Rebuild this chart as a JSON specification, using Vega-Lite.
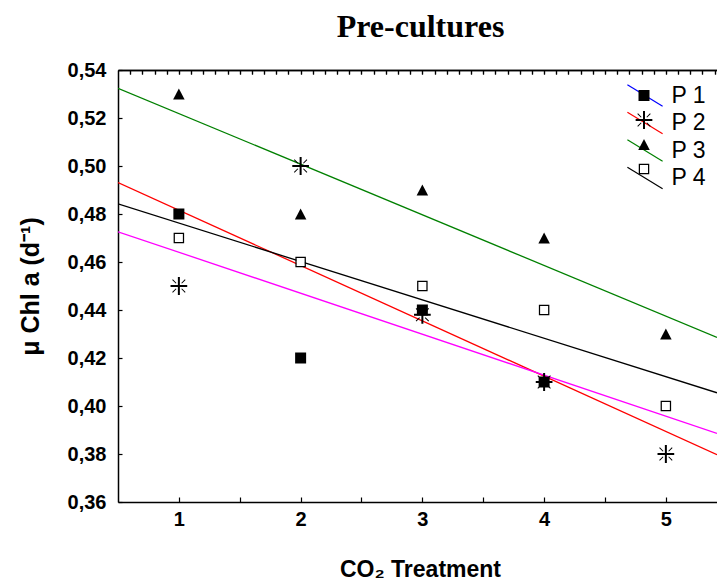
{
  "$schema": "https://vega.github.io/schema/vega-lite/v6.json",
  "width": 599,
  "height": 432,
  "autosize": {"type": "none"},
  "padding": {"left": 118, "top": 70, "right": 0, "bottom": 83},
  "background": "white",
  "title": {
    "text": "Pre-cultures",
    "font": "Liberation Serif",
    "fontSize": 32,
    "fontWeight": "bold",
    "color": "black",
    "anchor": "middle",
    "baseline": "alphabetic",
    "offset": -9,
    "dx": 3
  },
  "datasets": {
    "pts": [
      {"x": 1, "y": 0.48, "series": "P 1"},
      {"x": 2, "y": 0.42, "series": "P 1"},
      {"x": 3, "y": 0.44, "series": "P 1"},
      {"x": 4, "y": 0.41, "series": "P 1"},
      {"x": 1, "y": 0.45, "series": "P 2"},
      {"x": 2, "y": 0.50, "series": "P 2"},
      {"x": 3, "y": 0.438, "series": "P 2"},
      {"x": 4, "y": 0.41, "series": "P 2"},
      {"x": 5, "y": 0.38, "series": "P 2"},
      {"x": 1, "y": 0.53, "series": "P 3"},
      {"x": 2, "y": 0.48, "series": "P 3"},
      {"x": 3, "y": 0.49, "series": "P 3"},
      {"x": 4, "y": 0.47, "series": "P 3"},
      {"x": 5, "y": 0.43, "series": "P 3"},
      {"x": 1, "y": 0.47, "series": "P 4"},
      {"x": 2, "y": 0.46, "series": "P 4"},
      {"x": 3, "y": 0.45, "series": "P 4"},
      {"x": 4, "y": 0.44, "series": "P 4"},
      {"x": 5, "y": 0.40, "series": "P 4"}
    ],
    "fits": [
      {"x": 0.5, "y": 0.4931, "fit": "P 2"},
      {"x": 5.42, "y": 0.3797, "fit": "P 2"},
      {"x": 0.5, "y": 0.5324, "fit": "P 3"},
      {"x": 5.42, "y": 0.4286, "fit": "P 3"},
      {"x": 0.5, "y": 0.4842, "fit": "P 4"},
      {"x": 5.42, "y": 0.4055, "fit": "P 4"},
      {"x": 0.5, "y": 0.4726, "fit": "mean"},
      {"x": 5.42, "y": 0.3886, "fit": "mean"}
    ]
  },
  "layer": [
    {
      "data": {"name": "fits"},
      "mark": {"type": "line", "strokeWidth": 1.3, "clip": true},
      "encoding": {
        "x": {
          "field": "x", "type": "quantitative",
          "scale": {"domain": [0.5, 5.42], "nice": false, "zero": false},
          "axis": {
            "orient": "bottom",
            "values": [1, 1.5, 2, 2.5, 3, 3.5, 4, 4.5, 5],
            "labelExpr": "datum.value % 1 == 0 ? format(datum.value, 'd') : ''",
            "tickSize": -5,
            "labelPadding": 12,
            "labelFlush": false,
            "labelOverlap": false,
            "title": "CO₂ Treatment",
            "titleX": 302,
            "titleY": 74,
            "titleAlign": "center",
            "titleBaseline": "alphabetic"
          }
        },
        "y": {
          "field": "y", "type": "quantitative",
          "scale": {"domain": [0.36, 0.54], "nice": false, "zero": false},
          "axis": {
            "orient": "left",
            "values": [0.36, 0.37, 0.38, 0.39, 0.40, 0.41, 0.42, 0.43, 0.44, 0.45, 0.46, 0.47, 0.48, 0.49, 0.50, 0.51, 0.52, 0.53, 0.54],
            "labelExpr": "round(datum.value * 100) % 2 == 0 ? replace(format(datum.value, '.2f'), '.', ',') : ''",
            "tickSize": -4,
            "labelPadding": 16,
            "labelFlush": false,
            "labelOverlap": false,
            "title": "μ Chl a (d⁻¹)\u00a0\u00a0\u00a0\u00a0\u00a0\u00a0\u00a0",
            "titleFontSize": 25,
            "titleAngle": -90,
            "titleX": -80,
            "titleAlign": "center",
            "titleBaseline": "alphabetic"
          }
        },
        "stroke": {
          "field": "fit", "type": "nominal",
          "scale": {
            "domain": ["P 1", "P 2", "P 3", "P 4", "mean"],
            "range": ["#0000ff", "#ff0000", "#008000", "#000000", "#ff00ff"]
          },
          "legend": {
            "values": ["P 1", "P 2", "P 3", "P 4"],
            "orient": "none",
            "legendX": 515.5,
            "legendY": 14,
            "title": null,
            "padding": 0,
            "symbolType": "M-4.4,-2.7L4.4,2.7",
            "symbolSize": 64,
            "symbolStrokeWidth": 1.2,
            "labelFont": "Liberation Sans",
            "labelFontSize": 23,
            "labelColor": "black",
            "labelOffset": 15,
            "rowPadding": 0.5
          }
        }
      }
    },
    {
      "data": {"name": "pts"},
      "transform": [{"filter": "datum.series == 'P 4'"}],
      "mark": {"type": "point", "shape": "M-0.85,-0.85H0.85V0.85H-0.85Z", "size": 100, "filled": true, "color": "white", "opacity": 1},
      "encoding": {
        "x": {
          "field": "x", "type": "quantitative",
          "axis": {
            "orient": "top",
            "values": [0.6, 0.7, 0.8, 0.9, 1.0, 1.1, 1.2, 1.3, 1.4, 1.5, 1.6, 1.7, 1.8, 1.9, 2.0, 2.1, 2.2, 2.3, 2.4, 2.5, 2.6, 2.7, 2.8, 2.9, 3.0, 3.1, 3.2, 3.3, 3.4, 3.5, 3.6, 3.7, 3.8, 3.9, 4.0, 4.1, 4.2, 4.3, 4.4, 4.5, 4.6, 4.7, 4.8, 4.9, 5.0, 5.1, 5.2, 5.3, 5.4],
            "labels": false,
            "tickSize": -4,
            "title": null
          }
        },
        "y": {"field": "y", "type": "quantitative"}
      }
    },
    {
      "data": {"name": "pts"},
      "mark": {"type": "point", "size": 100, "filled": true, "color": "black", "opacity": 1},
      "encoding": {
        "x": {
          "field": "x", "type": "quantitative",
          "axis": {
            "orient": "top",
            "values": [0.6, 0.7, 0.8, 0.9, 1.0, 1.1, 1.2, 1.3, 1.4, 1.5, 1.6, 1.7, 1.8, 1.9, 2.0, 2.1, 2.2, 2.3, 2.4, 2.5, 2.6, 2.7, 2.8, 2.9, 3.0, 3.1, 3.2, 3.3, 3.4, 3.5, 3.6, 3.7, 3.8, 3.9, 4.0, 4.1, 4.2, 4.3, 4.4, 4.5, 4.6, 4.7, 4.8, 4.9, 5.0, 5.1, 5.2, 5.3, 5.4],
            "labels": false,
            "tickSize": -4,
            "title": null
          }
        },
        "y": {"field": "y", "type": "quantitative"},
        "shape": {
          "field": "series", "type": "nominal",
          "scale": {
            "domain": ["P 1", "P 2", "P 3", "P 4"],
            "range": [
              "M-1.1,-1.1H1.1V1.1H-1.1Z",
              "M-1.67,-0.2H1.67V0.2H-1.67Z M-0.2,-1.8H0.2V1.8H-0.2Z M-1.2,-1.34L-0.48,-0.62L-0.62,-0.48L-1.34,-1.2Z M0.62,0.48L1.34,1.2L1.2,1.34L0.48,0.62Z M1.2,-1.34L1.34,-1.2L0.62,-0.48L0.48,-0.62Z M-0.62,0.48L-0.48,0.62L-1.2,1.34L-1.34,1.2Z",
              "M0,-1.1L1.15,1.1L-1.15,1.1Z",
              "M-1.05,-1.05H1.05V1.05H-1.05Z M-0.8,-0.8V0.8H0.8V-0.8Z"
            ]
          },
          "legend": {
            "orient": "none",
            "legendX": 514.5,
            "legendY": 14,
            "title": null,
            "padding": 0,
            "symbolSize": 100,
            "symbolFillColor": "black",
            "symbolStrokeWidth": 0,
            "symbolOpacity": 1,
            "labelFont": "Liberation Sans",
            "labelFontSize": 23,
            "labelOpacity": 0,
            "rowPadding": 0.5
          }
        }
      }
    }
  ],
  "config": {
    "view": {"stroke": null},
    "axis": {
      "grid": false,
      "domainColor": "black",
      "domainWidth": 1.5,
      "tickColor": "black",
      "tickWidth": 1.2,
      "labelColor": "black",
      "labelFont": "Liberation Sans",
      "labelFontSize": 20,
      "labelFontWeight": "bold",
      "titleColor": "black",
      "titleFont": "Liberation Sans",
      "titleFontSize": 23,
      "titleFontWeight": "bold"
    }
  }
}
